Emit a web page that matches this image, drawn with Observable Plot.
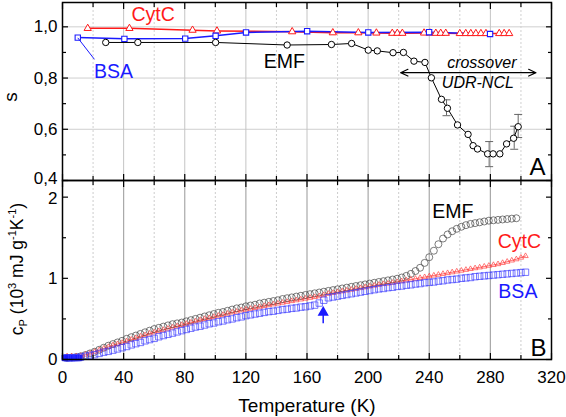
<!DOCTYPE html>
<html><head><meta charset="utf-8">
<script src="https://cdn.jsdelivr.net/npm/d3@7"></script>
<script src="https://cdn.jsdelivr.net/npm/@observablehq/plot@0.6"></script>
<style>
body{margin:0;background:#fff;}
#chart{position:relative;width:566px;height:417px;font-family:"Liberation Sans",Arial,sans-serif;}
#chart svg{position:absolute;left:0;overflow:visible;}
</style></head><body><div id="chart"></div>
<script>
// ---------- DATA: panel A (order parameter s) ----------
const emfT = [28.3, 49.3, 100.2, 147, 176, 189.2, 200.1, 206, 216.3, 223.1, 230, 237.2, 241.4, 248, 251.9, 258.5, 265.4, 268.7, 271.6, 278.2, 281.8, 286.2, 290.6, 295.2, 298.2];
const emfS = [0.939, 0.939, 0.939, 0.929, 0.931, 0.935, 0.909, 0.906, 0.899, 0.9, 0.866, 0.861, 0.801, 0.717, 0.682, 0.617, 0.58, 0.536, 0.523, 0.504, 0.504, 0.504, 0.543, 0.565, 0.61];
const cytT = [16.5, 43.8, 85.1, 101.1, 150.3, 176.9, 193.6, 205.4, 215.8, 219.1, 222.4, 236.6, 240.5, 244.3, 247.5, 250.8, 260, 263.9, 267.2, 270.5, 273.8, 277.1, 285.8, 289, 292.3];
const cytS = [0.994, 0.994, 0.987, 0.984, 0.981, 0.977, 0.977, 0.976, 0.975, 0.975, 0.975, 0.976, 0.976, 0.975, 0.975, 0.975, 0.974, 0.974, 0.974, 0.974, 0.974, 0.974, 0.974, 0.974, 0.974];
const bsaT = [10, 40.5, 80.3, 100.2, 120.1, 160.1, 200.1, 239.9, 279.8];
const bsaS = [0.958, 0.953, 0.954, 0.965, 0.978, 0.983, 0.978, 0.979, 0.972];
const errT = [251.3, 279.2, 295.6, 298.2];
const errS = [0.684, 0.503, 0.567, 0.613];
const errD = [0.031, 0.049, 0.045, 0.045];

// ---------- DATA: panel B (heat capacity, 10^3 mJ g^-1 K^-1) ----------
const cpT = [3,6,9,12,15,18,21,24,27,30,33,36,39,42,45,48,51,54,57,60,63,66,69,72,75,78,81,84,87,90,93,96,99,102,105,108,111,114,117,120,123,126,129,132,135,138,141,144,147,150,153,156,159,162,165,168,171,174,177,180,183,186,189,192,195,198,201,204,207,210,213,216,219,222,225,228,231,234,237,240,243,246,249,252,255,258,261,264,267,270,273,276,279,282,285,288,291,294,297,300,303];
const emfCp = [0.02,0.025,0.03,0.04,0.055,0.075,0.095,0.12,0.145,0.17,
0.19,0.21,0.23,0.255,0.275,0.295,0.315,0.335,0.355,0.375,
0.39,0.405,0.42,0.435,0.445,0.455,0.47,0.485,0.5,0.515,
0.53,0.545,0.56,0.575,0.585,0.6,0.615,0.63,0.64,0.655,
0.665,0.675,0.69,0.7,0.71,0.72,0.73,0.745,0.755,0.765,
0.775,0.785,0.795,0.805,0.815,0.825,0.835,0.845,0.855,0.865,
0.875,0.885,0.895,0.905,0.915,0.925,0.935,0.945,0.955,0.965,
0.975,0.985,0.995,1.01,1.03,1.055,1.09,1.13,1.19,1.26,
1.34,1.42,1.49,1.54,1.58,1.61,1.635,1.655,1.67,1.68,
1.69,1.70,1.71,1.715,1.72,1.725,1.73,1.735,1.74];
const cytCp = [0.04,0.04,0.04,0.045,0.06,0.075,0.095,0.115,0.135,0.155,
0.175,0.19,0.205,0.225,0.245,0.265,0.285,0.3,0.32,0.335,
0.35,0.365,0.38,0.395,0.41,0.425,0.44,0.455,0.47,0.485,
0.5,0.51,0.525,0.54,0.55,0.565,0.58,0.59,0.605,0.615,
0.625,0.635,0.645,0.66,0.67,0.68,0.69,0.7,0.71,0.72,
0.73,0.74,0.75,0.76,0.77,0.78,0.795,0.81,0.82,0.83,
0.84,0.85,0.86,0.87,0.88,0.89,0.9,0.91,0.92,0.93,
0.935,0.945,0.955,0.965,0.975,0.985,0.995,1.005,1.015,1.025,
1.035,1.045,1.055,1.065,1.075,1.085,1.095,1.105,1.115,1.125,
1.135,1.145,1.155,1.165,1.175,1.19,1.205,1.22,1.235,1.255,1.275];
const bsaCp = [0.02,0.02,0.025,0.03,0.04,0.05,0.06,0.075,0.09,0.1,
0.115,0.13,0.145,0.16,0.18,0.195,0.21,0.23,0.245,0.26,
0.28,0.295,0.31,0.325,0.34,0.355,0.37,0.385,0.4,0.41,
0.425,0.44,0.45,0.465,0.475,0.49,0.5,0.515,0.525,0.54,
0.55,0.56,0.57,0.58,0.59,0.595,0.605,0.615,0.62,0.63,
0.635,0.645,0.65,0.66,0.67,0.695,0.73,0.76,0.77,0.78,
0.79,0.8,0.81,0.82,0.83,0.84,0.85,0.86,0.87,0.875,
0.885,0.89,0.9,0.905,0.915,0.92,0.93,0.935,0.945,0.95,
0.955,0.965,0.97,0.98,0.985,0.99,1.0,1.005,1.01,1.02,
1.025,1.03,1.035,1.04,1.045,1.05,1.055,1.06,1.065,1.07,1.075];
const bsaLowT = [1.5, 2.5, 4, 5, 7, 8, 10, 11];
const bsaLowCp = [0.02, 0.02, 0.02, 0.02, 0.02, 0.02, 0.02, 0.02];

// ---------- ticks ----------
const xMajor = [0, 40, 80, 120, 160, 200, 240, 280, 320];
const xMinor = [20, 60, 100, 140, 180, 220, 260, 300];
const sMajor = [0.4, 0.6, 0.8, 1.0];
const sMinor = [0.5, 0.7, 0.9];
const cpMajor = [0, 1, 2];
const cpMinor = [0.5, 1.5];

// ---------- tables ----------
const zip = (xs, ys, k) => ys.map((v, i) => ({T: xs[i], [k]: v}));
const emfA = zip(emfT, emfS, "s"), cytA = zip(cytT, cytS, "s"), bsaA = zip(bsaT, bsaS, "s");
const errA = errT.map((t, i) => ({T: t, lo: errS[i] - errD[i], hi: errS[i] + errD[i]}));
const emfB = zip(cpT, emfCp, "cp"), cytB = zip(cpT, cytCp, "cp");
const bsaLow = zip(bsaLowT, bsaLowCp, "cp");
const bsaB = zip(cpT, bsaCp, "cp");

const FONT = '"Liberation Sans", Arial, sans-serif';
const RED = "#ff1a1a", BLUE = "#1a1aff";
const capSym = {draw(ctx, size) { const r = Math.sqrt(size / Math.PI); ctx.moveTo(-r, 0); ctx.lineTo(r, 0); }};
const comma = d => d.toFixed(1).replace(".", ",");

function frameTicks(yMaj, yMin) {
  return [
    Plot.axisX(xMajor, {anchor: "bottom", tickSize: -6, fill: "none", label: null, strokeWidth: 1.2}),
    Plot.axisX(xMinor, {anchor: "bottom", tickSize: -4, fill: "none", label: null, strokeWidth: 1.2}),
    Plot.axisX(xMajor, {anchor: "top", tickSize: -6, fill: "none", label: null, strokeWidth: 1.2}),
    Plot.axisX(xMinor, {anchor: "top", tickSize: -4, fill: "none", label: null, strokeWidth: 1.2}),
    Plot.axisY(yMaj, {anchor: "left", tickSize: -6, fill: "none", label: null, strokeWidth: 1.2}),
    Plot.axisY(yMin, {anchor: "left", tickSize: -4, fill: "none", label: null, strokeWidth: 1.2}),
    Plot.axisY(yMaj, {anchor: "right", tickSize: -6, fill: "none", label: null, strokeWidth: 1.2}),
    Plot.axisY(yMin, {anchor: "right", tickSize: -4, fill: "none", label: null, strokeWidth: 1.2}),
    Plot.frame({stroke: "black", strokeWidth: 1.5})
  ];
}
const common = {
  width: 566, marginLeft: 62, marginRight: 15,
  style: {fontFamily: FONT, fontSize: "17px", background: "transparent", overflow: "visible"},
  x: {domain: [0, 320], label: null}
};

const plotA = Plot.plot({
  ...common, height: 190, marginTop: 2, marginBottom: 10,
  y: {domain: [0.4, 1.095], label: null},
  marks: [
    Plot.gridY([0.6, 0.8, 1.0], {stroke: "#cfcfcf", strokeOpacity: 1}),
    Plot.gridX(xMajor.slice(1, -1), {stroke: "#c4c4c4", strokeOpacity: 1}),
    Plot.gridX(xMinor, {stroke: "#d0d0d0", strokeOpacity: 1, strokeDasharray: "2,2"}),
    Plot.ruleX(errA, {x: "T", y1: "lo", y2: "hi", stroke: "#666", strokeWidth: 1}),
    Plot.dot(errA, {x: "T", y: "lo", symbol: capSym, r: 4, stroke: "#666", strokeWidth: 1}),
    Plot.dot(errA, {x: "T", y: "hi", symbol: capSym, r: 4, stroke: "#666", strokeWidth: 1}),
    Plot.line(emfA, {x: "T", y: "s", stroke: "black", strokeWidth: 1}),
    Plot.line(cytA, {x: "T", y: "s", stroke: RED, strokeWidth: 1.5}),
    Plot.line(bsaA, {x: "T", y: "s", stroke: BLUE, strokeWidth: 1.5}),
    Plot.dot(emfA, {x: "T", y: "s", r: 3.2, stroke: "black", fill: "white", strokeWidth: 1}),
    Plot.dot(cytA, {x: "T", y: "s", symbol: "triangle", r: 2.7, stroke: RED, fill: "white", strokeWidth: 1}),
    Plot.dot(bsaA, {x: "T", y: "s", symbol: "square", r: 3, stroke: BLUE, fill: "white", strokeWidth: 1.1}),
    Plot.link([{x1: 10, y1: 0.957, x2: 20.9, y2: 0.873}], {x1: "x1", y1: "y1", x2: "x2", y2: "y2", stroke: BLUE, strokeWidth: 1}),
    Plot.text(["CytC"], {x: 59.3, y: 1.046, fill: RED, fontSize: 19.5}),
    Plot.text(["BSA"], {x: 33.4, y: 0.823, fill: BLUE, fontSize: 19.5}),
    Plot.text(["EMF"], {x: 145.2, y: 0.862, fill: "black", fontSize: 19.5}),
    Plot.text(["crossover"], {x: 274.4, y: 0.858, fill: "black", fontSize: 16, fontStyle: "italic"}),
    Plot.text(["UDR-NCL"], {x: 271.8, y: 0.78, fill: "black", fontSize: 16, fontStyle: "italic"}),
    Plot.arrow([{a: 265.6, b: 221.3}, {a: 265.6, b: 309.8}], {x1: "a", x2: "b", y1: 0.821, y2: 0.821, stroke: "black", strokeWidth: 1.2, headLength: 10, headAngle: 50}),
    Plot.text(["A"], {x: 310.8, y: 0.453, fill: "black", fontSize: 24}),
    ...frameTicks(sMajor, sMinor),
    Plot.axisY(sMajor.slice(1), {anchor: "left", tickSize: 0, tickPadding: 5, tickFormat: comma, label: null}),
    Plot.axisY(sMajor.slice(0, 1), {anchor: "left", tickSize: 0, tickPadding: 5, tickFormat: comma, label: null, dy: -2})
  ]
});

const plotB = Plot.plot({
  ...common, height: 239, marginTop: 2, marginBottom: 58,
  y: {domain: [0, 2.205], label: null},
  marks: [
    Plot.gridX(xMajor.slice(1, -1), {stroke: "#a8a8a8", strokeOpacity: 1, strokeWidth: 1.2}),
    Plot.gridX(xMinor, {stroke: "#cccccc", strokeOpacity: 1, strokeDasharray: "2,2"}),
    Plot.line(cytB, {x: "T", y: "cp", stroke: RED, strokeWidth: 0.8, strokeOpacity: 0.8}),
    Plot.dot(emfB, {x: "T", y: "cp", r: 3.5, stroke: "#444", strokeWidth: 0.7}),
    Plot.dot(cytB, {x: "T", y: "cp", symbol: "triangle", r: 2, stroke: "#ff4040", strokeWidth: 0.7}),
    Plot.dot(bsaLow, {x: "T", y: "cp", symbol: "square", r: 3.2, stroke: BLUE, fill: BLUE, strokeWidth: 0.7}),
    Plot.dot(bsaB, {x: "T", y: "cp", symbol: "square", r: 3.6, stroke: "#3c3cff", strokeWidth: 0.7}),
    Plot.ruleX([170.6], {y1: 0.44, y2: 0.57, stroke: BLUE, strokeWidth: 1.5}),
    Plot.dot([170.6], {x: d => d, y: 0.58, symbol: "triangle", r: 3.2, fill: BLUE, stroke: BLUE}),
    Plot.text(["EMF"], {x: 255.4, y: 1.818, fill: "black", fontSize: 19.5}),
    Plot.text(["CytC"], {x: 299, y: 1.448, fill: RED, fontSize: 19.5}),
    Plot.text(["BSA"], {x: 298, y: 0.829, fill: BLUE, fontSize: 19.5}),
    Plot.text(["B"], {x: 311.5, y: 0.139, fill: "black", fontSize: 24}),
    ...frameTicks(cpMajor, cpMinor),
    Plot.axisY(cpMajor.slice(0, 2), {anchor: "left", tickSize: 0, tickPadding: 5, tickFormat: d => String(d), label: null}),
    Plot.axisY(cpMajor.slice(2), {anchor: "left", tickSize: 0, tickPadding: 5, tickFormat: d => String(d), label: null, dy: 1.5}),
    Plot.axisX(xMajor, {anchor: "bottom", tickSize: 0, tickPadding: 11, label: null}),
    Plot.text(["Temperature (K)"], {frameAnchor: "bottom", lineAnchor: "middle", dy: 46, fontSize: 19})
  ]
});

const chart = document.getElementById("chart");
plotA.style.top = "0px";
plotB.style.top = "178px";
chart.appendChild(plotA);
chart.appendChild(plotB);

// rotated axis titles (real text with sub/superscripts)
d3.select(plotA).append("text")
  .attr("transform", "translate(17,97) rotate(-90)")
  .attr("text-anchor", "middle").attr("font-size", 19).attr("font-family", FONT)
  .text("s");
const t = d3.select(plotB).append("text")
  .attr("transform", "translate(23,91) rotate(-90)")
  .attr("text-anchor", "middle").attr("font-size", 17.5).attr("font-family", FONT);
t.append("tspan").text("c");
t.append("tspan").attr("dy", 4).attr("font-size", 11).text("P");
t.append("tspan").attr("dy", -4).text(" (10");
t.append("tspan").attr("dy", -7).attr("font-size", 11).text("3");
t.append("tspan").attr("dy", 7).text(" mJ g");
t.append("tspan").attr("dy", -7).attr("font-size", 11).text("-1");
t.append("tspan").attr("dy", 7).text("K");
t.append("tspan").attr("dy", -7).attr("font-size", 11).text("-1");
t.append("tspan").attr("dy", 7).text(")");
</script></body></html>
